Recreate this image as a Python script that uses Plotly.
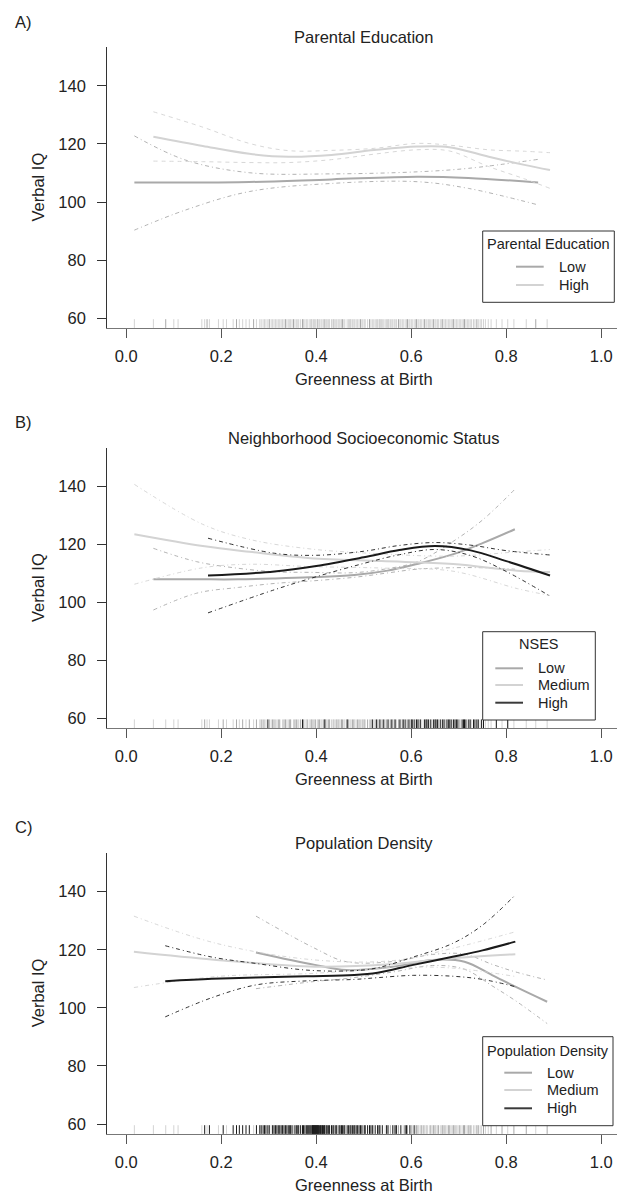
import plotly.graph_objects as go

W, H = 617, 1197

# ---------------- data ----------------
# Panel A: Parental Education
A_low_x = [0.017, 0.124, 0.259, 0.432, 0.612, 0.720, 0.867]
A_low_fit = [106.7, 106.7, 106.9, 107.8, 108.7, 108.3, 106.7]
A_low_lo = [90.3, 97.2, 103.6, 106.4, 107.0, 104.7, 99.0]
A_low_hi = [122.8, 114.5, 110.1, 109.7, 110.4, 111.6, 114.7]

A_high_x = [0.057, 0.161, 0.259, 0.342, 0.432, 0.522, 0.612, 0.680, 0.763, 0.838, 0.892]
A_high_fit = [122.5, 119.3, 116.6, 115.6, 116.2, 117.9, 119.1, 118.9, 115.6, 112.8, 111.0]
A_high_hi = [131.1, 125.8, 120.2, 117.7, 117.8, 118.5, 120.2, 119.6, 118.0, 117.5, 117.0]
A_high_lo = [114.1, 113.9, 113.6, 113.6, 114.6, 116.5, 118.0, 117.6, 112.2, 108.0, 104.7]

# Panel B: Neighborhood SES
B_low_x = [0.057, 0.148, 0.236, 0.314, 0.387, 0.480, 0.550, 0.612, 0.687, 0.750, 0.818]
B_low_fit = [108.0, 108.0, 108.0, 108.3, 108.7, 109.5, 111.0, 113.3, 116.6, 120.5, 125.3]
B_low_hi = [118.7, 114.1, 111.8, 110.6, 110.4, 110.3, 111.7, 114.0, 121.0, 128.5, 139.1]
B_low_lo = [97.4, 103.2, 105.2, 106.6, 107.4, 108.7, 110.2, 111.5, 112.0, 112.0, 111.5]

B_med_x = [0.017, 0.161, 0.259, 0.387, 0.537, 0.688, 0.823, 0.892]
B_med_fit = [123.6, 119.5, 117.5, 115.3, 114.3, 113.3, 111.0, 110.5]
B_med_hi = [140.8, 127.0, 121.8, 118.5, 116.8, 116.0, 117.5, 118.3]
B_med_lo = [106.3, 112.0, 113.2, 112.4, 111.9, 110.8, 104.8, 102.4]

B_high_x = [0.172, 0.312, 0.400, 0.500, 0.575, 0.650, 0.725, 0.800, 0.892]
B_high_fit = [109.3, 110.7, 112.6, 115.6, 118.1, 119.5, 118.0, 114.3, 109.3]
B_high_hi = [122.2, 117.0, 116.3, 117.7, 119.7, 120.7, 119.8, 117.9, 116.4]
B_high_lo = [96.4, 104.4, 108.9, 113.5, 116.5, 118.3, 116.2, 110.7, 102.2]

# Panel C: Population Density
C_low_x = [0.273, 0.397, 0.463, 0.563, 0.645, 0.712, 0.770, 0.819, 0.886]
C_low_fit = [119.1, 114.8, 113.0, 114.2, 116.5, 115.9, 111.3, 107.3, 102.1]
C_low_hi = [131.6, 120.5, 115.9, 116.0, 118.4, 118.5, 115.0, 112.4, 109.6]
C_low_lo = [106.6, 109.1, 110.1, 112.4, 114.6, 113.3, 107.6, 102.5, 94.6]

C_med_x = [0.016, 0.190, 0.397, 0.563, 0.687, 0.819]
C_med_fit = [119.3, 116.5, 114.2, 115.1, 117.1, 118.5]
C_med_hi = [131.6, 122.2, 116.5, 116.3, 120.5, 126.2]
C_med_lo = [107.0, 110.8, 111.9, 113.9, 113.7, 110.8]

C_high_x = [0.082, 0.180, 0.273, 0.380, 0.480, 0.529, 0.604, 0.687, 0.750, 0.819]
C_high_fit = [109.2, 110.0, 110.5, 110.9, 111.3, 112.1, 114.8, 117.6, 119.8, 122.8]
C_high_hi = [121.4, 117.5, 115.3, 113.0, 112.8, 113.8, 117.5, 122.2, 128.5, 138.9]
C_high_lo = [96.9, 103.5, 107.9, 109.3, 109.8, 110.4, 111.2, 110.9, 109.8, 107.3]

# rug (greenness at birth of observations), by group
A_low_rug = [0.083, 0.170, 0.232, 0.268, 0.301, 0.335, 0.352, 0.371, 0.389, 0.402, 0.418, 0.437,
             0.455, 0.471, 0.493, 0.512, 0.534, 0.551, 0.573, 0.592, 0.611, 0.628, 0.647, 0.666,
             0.689, 0.712, 0.738, 0.862]
A_high_rug = [0.017, 0.057, 0.100, 0.109, 0.159, 0.165, 0.175, 0.194, 0.204, 0.211, 0.225, 0.238,
              0.245, 0.252, 0.259, 0.274, 0.281, 0.288, 0.294, 0.298, 0.305, 0.311, 0.317, 0.323,
              0.329, 0.341, 0.346, 0.358, 0.363, 0.367, 0.376, 0.381, 0.385, 0.394, 0.398, 0.407,
              0.412, 0.423, 0.428, 0.432, 0.441, 0.446, 0.450, 0.460, 0.465, 0.476, 0.481, 0.487,
              0.498, 0.503, 0.508, 0.518, 0.524, 0.529, 0.539, 0.545, 0.556, 0.561, 0.566, 0.578,
              0.583, 0.587, 0.597, 0.602, 0.606, 0.616, 0.621, 0.633, 0.638, 0.652, 0.657, 0.661,
              0.672, 0.678, 0.684, 0.695, 0.701, 0.707, 0.718, 0.724, 0.731, 0.745, 0.752, 0.768,
              0.779, 0.791, 0.803, 0.816, 0.842, 0.886,
              0.284, 0.291, 0.308, 0.314, 0.320, 0.326, 0.332, 0.338, 0.344, 0.349, 0.355, 0.361,
              0.373, 0.379, 0.391, 0.396, 0.404, 0.410, 0.415, 0.421, 0.426, 0.435, 0.443, 0.448,
              0.453, 0.458, 0.468, 0.473, 0.479, 0.484, 0.490, 0.496, 0.501, 0.515, 0.521, 0.527,
              0.532, 0.537, 0.542, 0.548, 0.553, 0.559, 0.564, 0.569, 0.576, 0.581, 0.590, 0.595,
              0.600, 0.609, 0.614, 0.619, 0.625, 0.631, 0.636, 0.641, 0.644, 0.650, 0.655, 0.664,
              0.669, 0.675, 0.681, 0.687, 0.692, 0.698, 0.704, 0.710, 0.715, 0.721, 0.727, 0.734,
              0.741, 0.748, 0.756, 0.762]

B_low_rug = [0.165, 0.204, 0.232, 0.245, 0.259, 0.274, 0.288, 0.301, 0.311, 0.323, 0.335, 0.346,
             0.358, 0.367, 0.381, 0.389, 0.398, 0.407, 0.418, 0.428, 0.437, 0.446, 0.455, 0.465,
             0.476, 0.487, 0.498, 0.508, 0.524, 0.539, 0.556, 0.573, 0.592, 0.616, 0.657, 0.701,
             0.284, 0.308, 0.320, 0.332, 0.344, 0.355, 0.373, 0.391, 0.404, 0.415, 0.426, 0.443,
             0.453, 0.468, 0.479, 0.490, 0.501, 0.515, 0.532, 0.548, 0.564, 0.581]
B_med_rug = [0.017, 0.057, 0.083, 0.100, 0.109, 0.159, 0.170, 0.175, 0.194, 0.211, 0.225, 0.238,
             0.252, 0.268, 0.281, 0.294, 0.305, 0.317, 0.329, 0.341, 0.352, 0.363, 0.376, 0.385,
             0.394, 0.402, 0.412, 0.423, 0.432, 0.441, 0.450, 0.460, 0.471, 0.481, 0.493, 0.503,
             0.512, 0.529, 0.545, 0.561, 0.578, 0.597, 0.621, 0.638, 0.672, 0.718, 0.745, 0.768,
             0.779, 0.791, 0.803, 0.816, 0.842, 0.862, 0.886,
             0.291, 0.314, 0.338, 0.361, 0.379, 0.396, 0.410, 0.421, 0.435, 0.448, 0.458, 0.473,
             0.484, 0.496, 0.521, 0.537, 0.553, 0.569, 0.590, 0.609, 0.625, 0.644, 0.664, 0.687,
             0.704, 0.727, 0.756, 0.762]
B_high_rug = [0.298, 0.371, 0.418, 0.465, 0.518, 0.534, 0.551, 0.566, 0.583, 0.587, 0.602, 0.606,
              0.611, 0.628, 0.633, 0.647, 0.652, 0.661, 0.666, 0.678, 0.684, 0.689, 0.695, 0.707,
              0.712, 0.724, 0.731, 0.738, 0.752, 0.779, 0.803,
              0.527, 0.542, 0.559, 0.576, 0.595, 0.600, 0.614, 0.619, 0.631, 0.636, 0.641, 0.650,
              0.655, 0.669, 0.675, 0.681, 0.692, 0.698, 0.710, 0.715, 0.721, 0.734, 0.741, 0.748]

C_low_rug = [0.520, 0.556, 0.573, 0.592, 0.611, 0.621, 0.633, 0.647, 0.657, 0.666, 0.678, 0.689,
             0.701, 0.712, 0.724, 0.738, 0.752, 0.768, 0.791, 0.816, 0.842, 0.886,
             0.564, 0.600, 0.614, 0.625, 0.641, 0.650, 0.669, 0.681, 0.692, 0.710, 0.721, 0.741]
C_med_rug = [0.017, 0.057, 0.083, 0.100, 0.109, 0.159, 0.170, 0.194, 0.211, 0.268, 0.305, 0.352,
             0.446, 0.498, 0.545, 0.583, 0.602, 0.616, 0.628, 0.638, 0.652, 0.661, 0.672, 0.684,
             0.695, 0.707, 0.718, 0.731, 0.745, 0.779, 0.803, 0.862,
             0.609, 0.619, 0.631, 0.644, 0.655, 0.664, 0.675, 0.687, 0.698, 0.704, 0.715, 0.727,
             0.734, 0.748, 0.756, 0.762]
C_high_rug = [0.165, 0.175, 0.204, 0.225, 0.232, 0.238, 0.245, 0.252, 0.259, 0.274, 0.281, 0.288,
              0.294, 0.298, 0.301, 0.311, 0.317, 0.323, 0.329, 0.335, 0.341, 0.346, 0.358, 0.363,
              0.367, 0.371, 0.376, 0.381, 0.385, 0.389, 0.392, 0.394, 0.396, 0.398, 0.400, 0.402,
              0.404, 0.407, 0.410, 0.412, 0.415, 0.418, 0.423, 0.428, 0.432, 0.437, 0.441, 0.450,
              0.455, 0.460, 0.465, 0.471, 0.476, 0.481, 0.487, 0.493, 0.503, 0.508, 0.512, 0.518,
              0.524, 0.529, 0.534, 0.539, 0.551, 0.561, 0.566, 0.578, 0.587, 0.597, 0.606,
              0.284, 0.291, 0.308, 0.314, 0.320, 0.326, 0.332, 0.338, 0.344, 0.349, 0.355, 0.361,
              0.373, 0.379, 0.383, 0.387, 0.391, 0.393, 0.395, 0.397, 0.399, 0.401, 0.403, 0.405,
              0.409, 0.413, 0.417, 0.421, 0.426, 0.435, 0.443, 0.448, 0.453, 0.458, 0.468, 0.473,
              0.479, 0.484, 0.490, 0.496, 0.501, 0.515, 0.532, 0.548, 0.569, 0.590]

y_ticks = [60, 80, 100, 120, 140]
x_ticks = [0.0, 0.2, 0.4, 0.6, 0.8, 1.0]
titles = ["Parental Education", "Neighborhood Socioeconomic Status", "Population Density"]
letters = ["A)", "B)", "C)"]
legend_titles = ["Parental Education", "NSES", "Population Density"]
legend_labels = [["Low", "High"], ["Low", "Medium", "High"], ["Low", "Medium", "High"]]

# ---------------- styles ----------------
C_LOW = "#a9a9a9"
C_MED = "#d3d3d3"
C_HIGH = "#1a1a1a"
legend_colors = [[C_LOW, C_MED], [C_LOW, C_MED, "#3a3a3a"], [C_LOW, C_MED, "#3a3a3a"]]
FONT = "Liberation Sans, Arial, sans-serif"
TXT = "#222222"
DASHDOT = "4px,3px,1px,3px"
DASH = "4px,4px"

YR = [56.6, 153.4]
XR = [-0.04, (W - 126.3) / 475.0]

# pixel geometry of each panel (top, bottom of plot region)
panels_px = [(47.1, 327.9), (447.9, 728.1), (852.8, 1133.9)]
x_left_px = 107.3

# legend geometry (pixels): box (x0, x1, y0, y1), title centre, row centres, sample x0/x1, label x
legend_geo = [
    dict(box=(482.7, 614.3, 231.0, 302.3), tx=548.0, ty=244.3, rows=[266.7, 285.0], lx=(516.0, 543.7), tlx=557.0),
    dict(box=(482.7, 595.3, 631.7, 720.0), tx=538.7, ty=644.3, rows=[668.3, 685.0, 702.7], lx=(495.3, 523.0), tlx=536.3),
    dict(box=(482.7, 613.0, 1036.7, 1125.7), tx=547.9, ty=1051.0, rows=[1072.7, 1090.0, 1108.3], lx=(504.3, 532.0), tlx=544.7),
]

fig = go.Figure()


def add_group(i, name, color, xs, fit, lo, hi, dash, rug):
    xa = "x" if i == 0 else f"x{i+1}"
    ya = "y" if i == 0 else f"y{i+1}"
    rx, ry = [], []
    for v in rug:
        rx += [v, v, None]
        ry += [YR[0], YR[0] + 3.0, None]
    fig.add_trace(go.Scatter(x=rx, y=ry, mode="lines", line=dict(color=color, width=1),
                             xaxis=xa, yaxis=ya, showlegend=False, hoverinfo="skip"))
    for band in (lo, hi):
        fig.add_trace(go.Scatter(x=xs, y=band, mode="lines",
                                 line=dict(color=color, width=0.9, dash=dash, shape="spline", smoothing=1.0),
                                 xaxis=xa, yaxis=ya, showlegend=False, hoverinfo="skip"))
    fig.add_trace(go.Scatter(x=xs, y=fit, mode="lines", name=name,
                             line=dict(color=color, width=2, shape="spline", smoothing=1.0),
                             xaxis=xa, yaxis=ya, showlegend=False))


# Panel A
add_group(0, "Low", C_LOW, A_low_x, A_low_fit, A_low_lo, A_low_hi, DASHDOT, A_low_rug)
add_group(0, "High", C_MED, A_high_x, A_high_fit, A_high_lo, A_high_hi, DASH, A_high_rug)
# Panel B
add_group(1, "Low", C_LOW, B_low_x, B_low_fit, B_low_lo, B_low_hi, DASHDOT, B_low_rug)
add_group(1, "Medium", C_MED, B_med_x, B_med_fit, B_med_lo, B_med_hi, DASHDOT, B_med_rug)
add_group(1, "High", C_HIGH, B_high_x, B_high_fit, B_high_lo, B_high_hi, DASHDOT, B_high_rug)
# Panel C
add_group(2, "Low", C_LOW, C_low_x, C_low_fit, C_low_lo, C_low_hi, DASHDOT, C_low_rug)
add_group(2, "Medium", C_MED, C_med_x, C_med_fit, C_med_lo, C_med_hi, DASHDOT, C_med_rug)
add_group(2, "High", C_HIGH, C_high_x, C_high_fit, C_high_lo, C_high_hi, DASHDOT, C_high_rug)


def px(v):
    return v / W


def py(v):
    return 1 - v / H


layout = dict(
    width=W, height=H,
    margin=dict(l=0, r=0, t=0, b=0, autoexpand=False),
    paper_bgcolor="white", plot_bgcolor="white",
    font=dict(family=FONT, color=TXT, size=16),
    showlegend=False,
)

annotations = []
shapes = []
for i, (top, bot) in enumerate(panels_px):
    sfx = "" if i == 0 else str(i + 1)
    layout["xaxis" + sfx] = dict(
        domain=[x_left_px / W, 1.0], range=XR, anchor="y" + sfx, automargin=False,
        tickvals=x_ticks, ticktext=[f"{v:.1f}" for v in x_ticks],
        ticks="outside", ticklen=9, tickwidth=1, tickcolor="#555555",
        showline=True, linecolor="#777777", linewidth=1.2,
        showgrid=False, zeroline=False, ticklabelstandoff=4,
        tickfont=dict(size=16.5, color=TXT, family=FONT),
    )
    layout["yaxis" + sfx] = dict(
        domain=[py(bot), py(top)], range=YR, anchor="x" + sfx, automargin=False,
        tickvals=y_ticks, ticks="outside", ticklen=9, tickwidth=1, tickcolor="#333333",
        showline=True, linecolor="#333333", linewidth=1.2,
        showgrid=False, zeroline=False, ticklabelstandoff=8,
        tickfont=dict(size=16.5, color=TXT, family=FONT),
    )
    yc = (top + bot) / 2
    annotations += [
        dict(text=letters[i], x=px(12.5), y=py(top - 25.5), xref="paper", yref="paper",
             xanchor="left", yanchor="middle", showarrow=False, font=dict(size=16.5, color=TXT)),
        dict(text=titles[i], x=px(363.8), y=py(top - 9.8), xref="paper", yref="paper",
             xanchor="center", yanchor="middle", showarrow=False, font=dict(size=16.5, color=TXT)),
        dict(text="Verbal IQ", x=px(38), y=py(yc), xref="paper", yref="paper", textangle=-90,
             xanchor="center", yanchor="middle", showarrow=False, font=dict(size=16.5, color=TXT)),
        dict(text="Greenness at Birth", x=px(363.8), y=py(bot + 51), xref="paper", yref="paper",
             xanchor="center", yanchor="middle", showarrow=False, font=dict(size=16.5, color=TXT)),
    ]
    # legend box (drawn as layout decoration)
    g = legend_geo[i]
    x0, x1, y0, y1 = g["box"]
    shapes.append(dict(type="rect", xref="paper", yref="paper", x0=px(x0), x1=px(x1), y0=py(y1), y1=py(y0),
                       line=dict(color="#333333", width=1), fillcolor="white", layer="above"))
    annotations.append(dict(text=legend_titles[i], x=px(g["tx"]), y=py(g["ty"]), xref="paper", yref="paper",
                            xanchor="center", yanchor="middle", showarrow=False,
                            font=dict(size=14.5, color=TXT)))
    for lab, col, ry in zip(legend_labels[i], legend_colors[i], g["rows"]):
        shapes.append(dict(type="line", xref="paper", yref="paper", x0=px(g["lx"][0]), x1=px(g["lx"][1]),
                           y0=py(ry), y1=py(ry), line=dict(color=col, width=2), layer="above"))
        annotations.append(dict(text=lab, x=px(g["tlx"]), y=py(ry), xref="paper", yref="paper",
                                xanchor="left", yanchor="middle", showarrow=False,
                                font=dict(size=14.5, color=TXT)))

layout["annotations"] = annotations
layout["shapes"] = shapes
fig.update_layout(**layout)
fig.write_html("out.html", config={"displayModeBar": False},
               post_script="document.body.style.margin='0px';document.body.style.overflow='hidden';")
